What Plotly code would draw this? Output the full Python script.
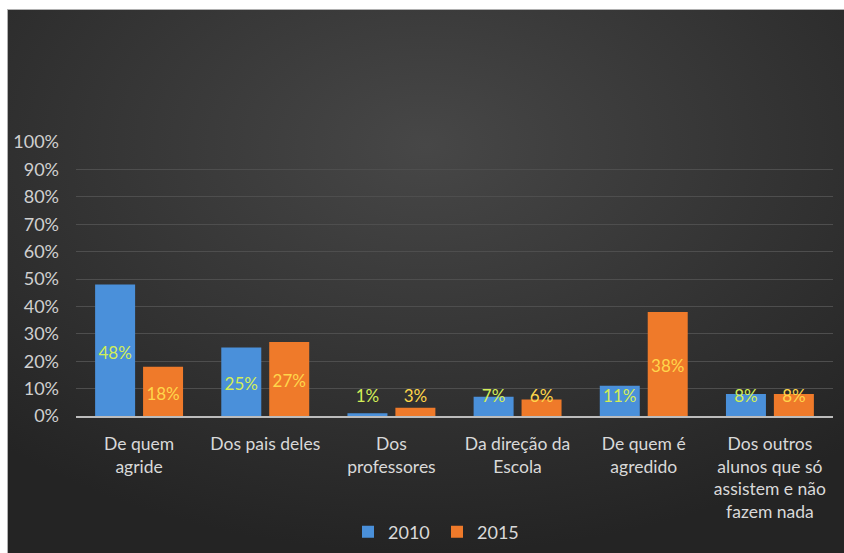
import base64
import plotly.graph_objects as go

# Data
categories = [
    "De quem<br>agride",
    "Dos pais deles",
    "Dos<br>professores",
    "Da direção da<br>Escola",
    "De quem é<br>agredido",
    "Dos outros<br>alunos que só<br>assistem e não<br>fazem nada",
]
values_2010 = [0.48, 0.25, 0.01, 0.07, 0.11, 0.08]
values_2015 = [0.18, 0.27, 0.03, 0.06, 0.38, 0.08]
series_names = ["2010", "2015"]
y_ticks = [i / 10 for i in range(11)]
y_tick_labels = [f"{i * 10}%" for i in range(11)]

FONT = "Lato"
W, H = 844, 553
ML, MR, MT, MB = 76, 11, 142, 137
plot_w = W - ML - MR
plot_h = H - MT - MB

idx = list(range(len(categories)))
bar_w = 0.317   # bar width in category units
half = 0.19     # distance of each bar centre from the category centre

fig = go.Figure()
fig.add_bar(x=idx, y=values_2010, name=series_names[0],
            width=bar_w, offset=-half - bar_w / 2,
            marker=dict(color="#4a90da", line=dict(width=0)))
fig.add_bar(x=idx, y=values_2015, name=series_names[1],
            width=bar_w, offset=half - bar_w / 2,
            marker=dict(color="#ef7a2a", line=dict(width=0)))


# value labels: centred in the bar, but never sinking below the axis line
def label_y(v):
    return max(v / 2 - 0.015, 0.066)


fig.add_scatter(x=[i - half for i in idx], y=[label_y(v) for v in values_2010],
                mode="text", text=[f"{round(v * 100)}%" for v in values_2010],
                textfont=dict(family=FONT, size=17, color="#d2ee58"),
                showlegend=False, hoverinfo="skip")
fig.add_scatter(x=[i + half for i in idx], y=[label_y(v) for v in values_2015],
                mode="text", text=[f"{round(v * 100)}%" for v in values_2015],
                textfont=dict(family=FONT, size=17, color="#ffd64a"),
                showlegend=False, hoverinfo="skip")

# dark radial-gradient panel behind the chart
svg = """<svg xmlns='http://www.w3.org/2000/svg' width='837' height='544' preserveAspectRatio='none'>
<defs><radialGradient id='g' cx='50%' cy='25%' r='75%'>
<stop offset='0' stop-color='#474747'/><stop offset='1' stop-color='#242424'/></radialGradient></defs>
<rect width='837' height='544' fill='url(#g)'/>
<line x1='0' y1='0.5' x2='837' y2='0.5' stroke='#b0b0b0' stroke-width='1'/>
<line x1='0.5' y1='0' x2='0.5' y2='544' stroke='#b0b0b0' stroke-width='1'/>
</svg>"""
src = "data:image/svg+xml;base64," + base64.b64encode(svg.encode()).decode()


def px_x(p):
    return (p - ML) / plot_w


def px_y(p):
    return (H - MB - p) / plot_h


fig.add_layout_image(dict(
    source=src, xref="paper", yref="paper",
    x=px_x(7), y=px_y(9), sizex=px_x(W) - px_x(7), sizey=px_y(9) - px_y(H),
    xanchor="left", yanchor="top", sizing="stretch", layer="below",
))

fig.update_layout(
    width=W, height=H,
    margin=dict(l=ML, r=MR, t=MT, b=MB, autoexpand=False),
    paper_bgcolor="white",
    plot_bgcolor="rgba(0,0,0,0)",
    barmode="overlay",
    font=dict(family=FONT, color="#d9d9d9"),
    showlegend=True,
    legend=dict(orientation="h", xref="paper", x=px_x(437), xanchor="center",
                yref="container", y=(H - 532) / H, yanchor="middle",
                font=dict(family=FONT, size=18, color="#d9d9d9"),
                bgcolor="rgba(0,0,0,0)", itemwidth=30,
                entrywidth=44, entrywidthmode="pixels",
                traceorder="normal"),
)
fig.update_xaxes(
    tickmode="array", tickvals=idx, ticktext=categories,
    range=[-0.5, len(categories) - 0.5],
    showgrid=False, zeroline=False,
    showline=True, linecolor="#bcbcbc", linewidth=1.5,
    ticks="", tickfont=dict(family=FONT, size=17.5, color="#d9d9d9"),
    ticklabelstandoff=11, automargin=False, fixedrange=True,
)
fig.update_yaxes(
    tickmode="array", tickvals=y_ticks, ticktext=y_tick_labels,
    range=[0, 1.0], showgrid=True, gridcolor="#4e4e4e", gridwidth=1,
    zeroline=False, showline=False, ticks="",
    tickfont=dict(family=FONT, size=18, color="#d0d0d0"),
    ticklabelstandoff=16, automargin=False, fixedrange=True,
)

fig.write_html("out.html")
